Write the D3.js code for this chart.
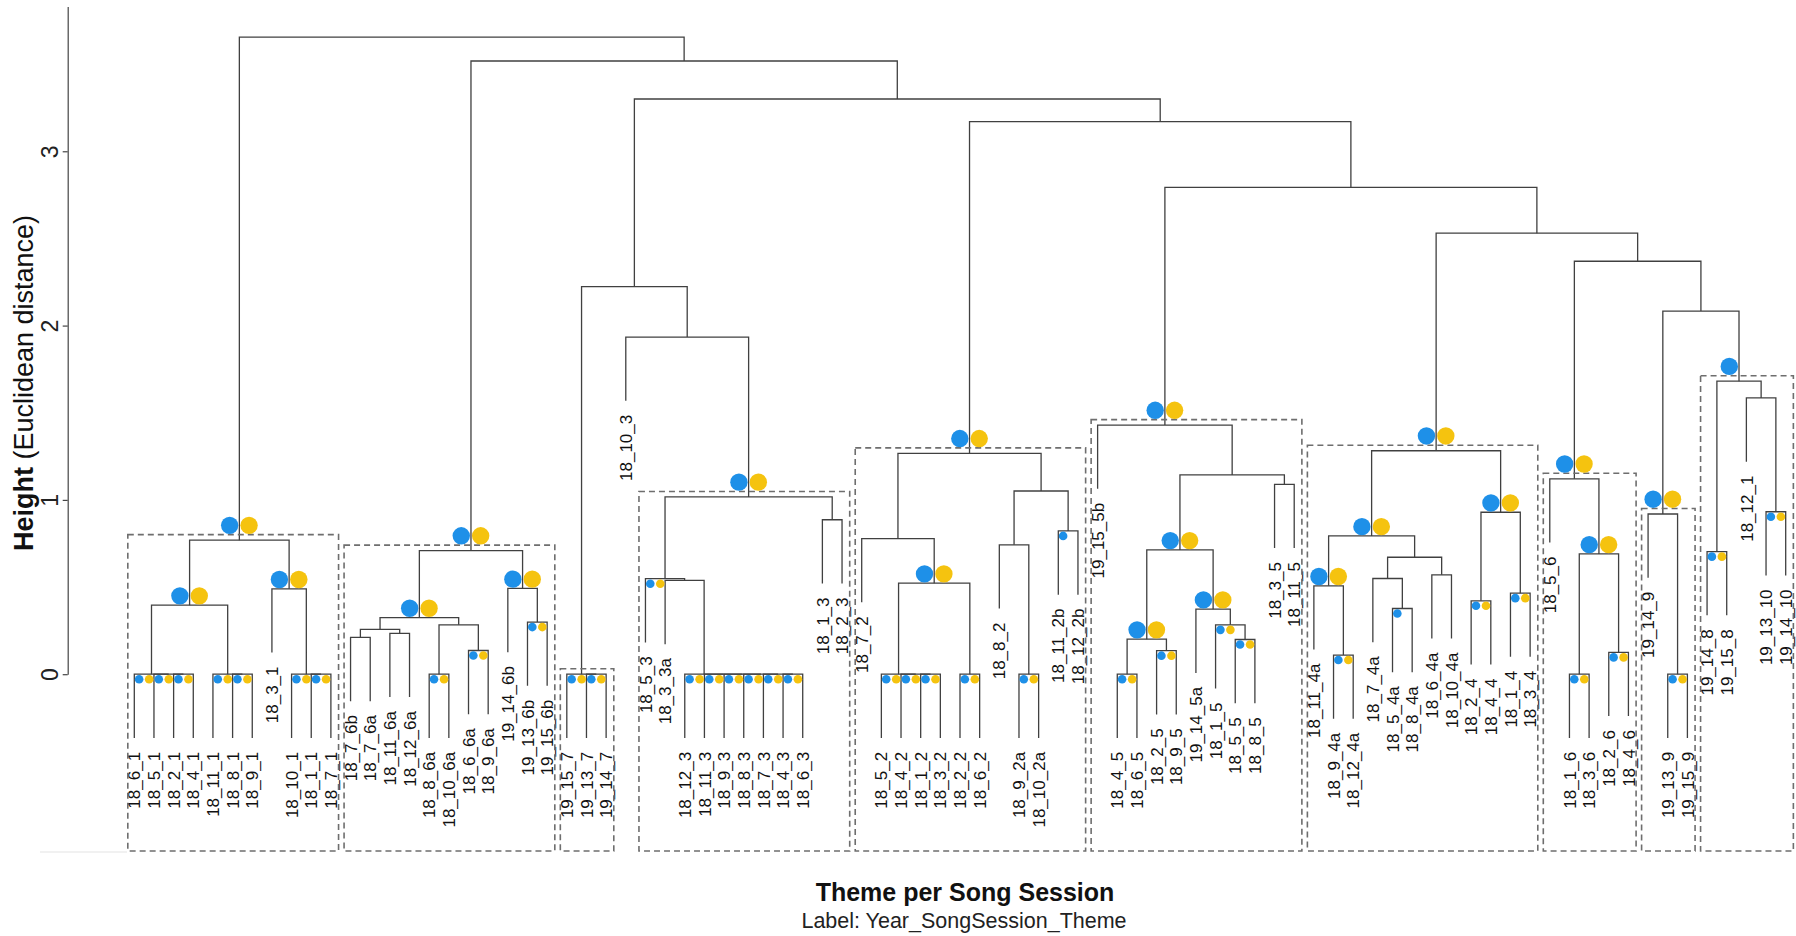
<!DOCTYPE html>
<html>
<head>
<meta charset="utf-8">
<script src="https://cdn.jsdelivr.net/npm/d3@7"></script>
<style>
  body { margin: 0; background: #fff; }
  svg { display: block; font-family: Arial, "Liberation Sans", sans-serif; }
</style>
</head>
<body>
<svg id="chart" width="1796" height="936"></svg>
<script>
// Each merge is [height, left, right, support]; leaves are theme labels.
// support: "BY" large blue+yellow, "by" small blue+yellow, "B"/"b" blue only.
const cluster1 = [0.769,
  [0.396,
    [0, "18_6_1", [0, "18_5_1", [0, "18_2_1", "18_4_1", "by"], "by"], "by"],
    [0, "18_11_1", [0, "18_8_1", "18_9_1", "by"], "by"],
    "BY"],
  [0.490, "18_3_1", [0, "18_10_1", [0, "18_1_1", "18_7_1", "by"], "by"], "BY"],
  "BY"];

const cluster2 = [0.709,
  [0.325,
    [0.257, [0.211, "18_7_6b", "18_7_6a"], [0.234, "18_11_6a", "18_12_6a"]],
    [0.283, [0, "18_8_6a", "18_10_6a", "by"], [0.136, "18_6_6a", "18_9_6a", "by"]],
    "BY"],
  [0.492, "19_14_6b", [0.299, "19_13_6b", "19_15_6b", "by"], "BY"],
  "BY"];

const cluster3 = [0, "19_15_7", [0, "19_13_7", "19_14_7", "by"], "by"];

const theme3Group = [0, "18_12_3", [0, "18_11_3", [0, "18_9_3", [0, "18_8_3",
  [0, "18_7_3", [0, "18_4_3", "18_6_3", "by"], "by"], "by"], "by"], "by"], "by"];

const cluster4 = [1.017,
  [0.548, "18_5_3", [0.538, "18_3_3a", theme3Group], "by"],
  [0.886, "18_1_3", "18_2_3"],
  "BY"];

const cluster5 = [1.267,
  [0.778, "18_7_2",
    [0.522,
      [0, "18_5_2", [0, "18_4_2", [0, "18_1_2", "18_3_2", "by"], "by"], "by"],
      [0, "18_2_2", "18_6_2", "by"],
      "BY"]],
  [1.051,
    [0.742, "18_8_2", [0, "18_9_2a", "18_10_2a", "by"]],
    [0.822, "18_11_2b", "18_12_2b", "b"]],
  "BY"];

const cluster6 = [1.429, "19_15_5b",
  [1.143,
    [0.713,
      [0.201, [0, "18_4_5", "18_6_5", "by"], [0.135, "18_2_5", "18_9_5", "by"], "BY"],
      [0.373, "19_14_5a", [0.283, "18_1_5", [0.199, "18_5_5", "18_8_5", "by"], "by"], "BY"],
      "BY"],
    [1.089, "18_3_5", "18_11_5"]],
  "BY"];

const cluster7 = [1.282,
  [0.793,
    [0.507, "18_11_4a", [0.110, "18_9_4a", "18_12_4a", "by"], "BY"],
    [0.671,
      [0.549, "18_7_4a", [0.377, "18_5_4a", "18_8_4a", "b"]],
      [0.570, "18_6_4a", "18_10_4a"]],
    "BY"],
  [0.929, [0.421, "18_2_4", "18_4_4", "by"], [0.465, "18_1_4", "18_3_4", "by"], "BY"],
  "BY"];

const cluster8 = [1.121, "18_5_6",
  [0.690, [0, "18_1_6", "18_3_6", "by"], [0.125, "18_2_6", "18_4_6", "by"], "BY"],
  "BY"];

const cluster9 = [0.919, "19_14_9", [0, "19_13_9", "19_15_9", "by"], "BY"];

const cluster10 = [1.681,
  [0.703, "19_14_8", "19_15_8", "by"],
  [1.585, "18_12_1", [0.932, "19_13_10", "19_14_10", "by"]],
  "B"];

const theme3Branch = [2.224, cluster3, [1.934, "18_10_3", cluster4]];

// Upper levels: each branch joins everything to its right at the given height.
const spineBranches = [cluster1, cluster2, theme3Branch, cluster5, cluster6, cluster7, cluster8, cluster9];
const spineHeights  = [3.655, 3.518, 3.300, 3.170, 2.793, 2.530, 2.369, 2.083];
const boxedClusters = [cluster1, cluster2, cluster3, cluster4, cluster5, cluster6, cluster7, cluster8, cluster9, cluster10];

const yTicks = [0, 1, 2, 3];
const yMax = 3.83;

// assemble the full tree
let rootArr = cluster10;
for (let i = spineBranches.length - 1; i >= 0; i--) {
  rootArr = [spineHeights[i], spineBranches[i], rootArr];
}

const leaves = [];
function build(n) {
  if (typeof n === "string") {
    const o = { leaf: true, label: n, idx: leaves.length };
    leaves.push(o);
    return o;
  }
  const o = { src: n, h: n[0] };
  o.left = build(n[1]);
  o.right = build(n[2]);
  o.mark = n[3] || null;
  return o;
}
const root = build(rootArr);
const hang = 0.1 * root.h;

const svg = d3.select("#chart");
const x = d3.scaleLinear().domain([0, leaves.length - 1]).range([134.3, 1785.7]);
const y = d3.scaleLinear().domain([0, yMax]).range([674.2, 6.6]);

const nodes = [];
function place(o) {
  if (o.leaf) { o.x = x(o.idx); o.lo = o.hi = o.idx; return; }
  place(o.left); place(o.right);
  o.x = (o.left.x + o.right.x) / 2;
  o.lo = o.left.lo; o.hi = o.right.hi;
  nodes.push(o);
}
place(root);

// faint base rule at lower left
svg.append("line")
  .attr("x1", 40).attr("x2", 127).attr("y1", 852).attr("y2", 852)
  .attr("stroke", "#e4e4e4").attr("stroke-width", 1.2);

// y axis
const yAxis = svg.append("g")
  .attr("transform", "translate(67.7,0)")
  .call(d3.axisLeft(y).tickValues(yTicks).tickFormat(d3.format("d")).tickSize(5).tickSizeOuter(0));
yAxis.select(".domain").attr("stroke", "#444").attr("stroke-width", 1.2);
yAxis.selectAll(".tick line").attr("stroke", "#444").attr("stroke-width", 1.2);
yAxis.selectAll(".tick text")
  .attr("transform", "rotate(-90)")
  .attr("x", 0).attr("y", -17.7).attr("dy", "0.36em")
  .attr("text-anchor", "middle")
  .attr("font-size", 23).attr("fill", "#222")
  .attr("font-family", 'Arial, "Liberation Sans", sans-serif');

const yTitle = svg.append("text")
  .attr("transform", "translate(23.5,383) rotate(-90)")
  .attr("text-anchor", "middle").attr("dy", "0.36em")
  .attr("font-size", 27).attr("fill", "#111");
yTitle.append("tspan").attr("font-weight", "bold").text("Height");
yTitle.append("tspan").text(" (Euclidean distance)");

// dendrogram branches
const childTop = (c, p) => c.leaf ? p.h - hang : c.h;
svg.append("g").selectAll("path").data(nodes).join("path")
  .attr("d", o => `M${o.left.x},${y(childTop(o.left, o))}V${y(o.h)}H${o.right.x}V${y(childTop(o.right, o))}`)
  .attr("fill", "none").attr("stroke", "#404040").attr("stroke-width", 1.3);

// leaf labels
const leafParents = [];
nodes.forEach(o => {
  if (o.left.leaf) leafParents.push([o.left, o]);
  if (o.right.leaf) leafParents.push([o.right, o]);
});
svg.append("g").selectAll("text").data(leafParents).join("text")
  .attr("transform", ([l, p]) => `translate(${l.x},${y(p.h - hang) + 14}) rotate(-90)`)
  .attr("text-anchor", "end").attr("dy", "0.36em")
  .attr("font-size", 17).attr("fill", "#111")
  .text(([l]) => l.label);

// cluster boxes
const boxed = nodes.filter(o => boxedClusters.includes(o.src));
boxed.forEach(o => { o.boxTop = y(o.h) - 5.5; });
svg.append("g").selectAll("rect").data(boxed).join("rect")
  .attr("x", o => x(o.lo - 0.33))
  .attr("y", o => o.boxTop)
  .attr("width", o => x(o.hi + 0.39) - x(o.lo - 0.33))
  .attr("height", o => 851 - o.boxTop)
  .attr("fill", "none").attr("stroke", "#6e6e6e")
  .attr("stroke-width", 1.6).attr("stroke-dasharray", "6,4");

// support markers
const BLUE = "#1e90e8", YELLOW = "#f5c30f";
const marks = [];
nodes.filter(o => o.mark).forEach(o => {
  const big = o.mark === o.mark.toUpperCase();
  const r = big ? 8.7 : 4.3;
  const off = big ? 9.7 : 5;
  const cx = big ? o.x : (x(o.left.hi) + x(o.right.lo)) / 2;
  const base = big ? (o.boxTop !== undefined ? o.boxTop : y(o.h)) : y(o.h);
  const cy = big ? base - r - 0.6 : base + r + 0.7;
  const m = o.mark.toLowerCase();
  if (m.includes("b")) marks.push({ cx: cx - off, cy, r, fill: BLUE });
  if (m.includes("y")) marks.push({ cx: cx + off, cy, r, fill: YELLOW });
});
svg.append("g").selectAll("circle").data(marks).join("circle")
  .attr("cx", d => d.cx).attr("cy", d => d.cy).attr("r", d => d.r)
  .attr("fill", d => d.fill);

// x titles
svg.append("text")
  .attr("x", 965).attr("y", 900.5).attr("text-anchor", "middle")
  .attr("font-size", 25).attr("font-weight", "bold").attr("fill", "#111")
  .text("Theme per Song Session");
svg.append("text")
  .attr("x", 964).attr("y", 927.5).attr("text-anchor", "middle")
  .attr("font-size", 21.5).attr("fill", "#222")
  .text("Label: Year_SongSession_Theme");
</script>
</body>
</html>
